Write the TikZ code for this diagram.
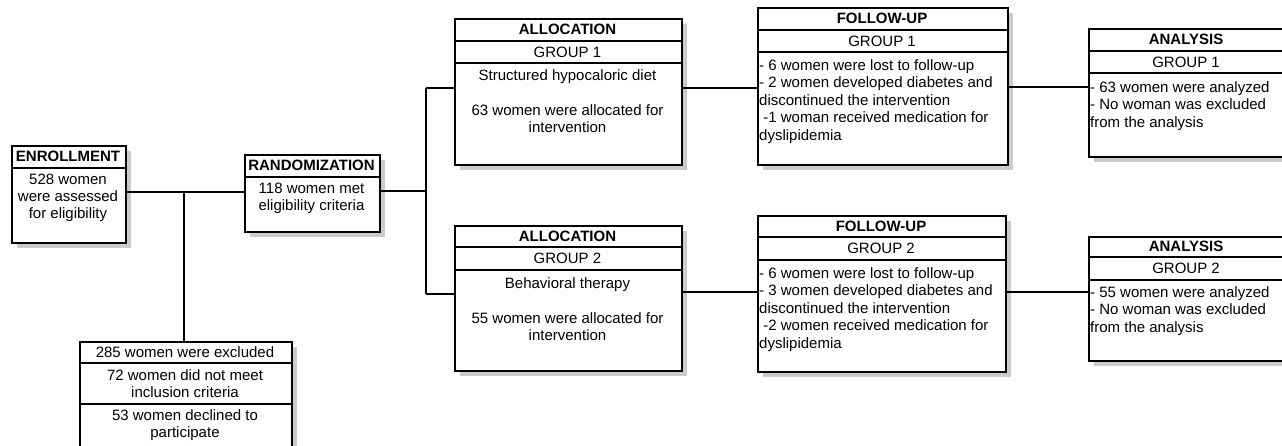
\documentclass[tikz,border=0pt]{standalone}
\usepackage{fontspec}
\setmainfont{Liberation Sans}
\usetikzlibrary{shadows}
\newcommand\diafs{\fontsize{15}{17.4}\selectfont}
\begin{document}
\begin{tikzpicture}[x=1pt,y=-1pt,
 box/.style={draw, line width=2pt, fill=white, inner sep=0pt, anchor=north west,
   drop shadow={shadow xshift=5pt, shadow yshift=-5pt, fill=black!40}},
 divider/.style={line width=2pt},
 link/.style={line width=2pt},
 hd/.style={font=\diafs\bfseries, anchor=base, inner sep=0pt},
 sub/.style={font=\diafs, anchor=base, inner sep=0pt},
 ctext/.style={font=\diafs, align=center, anchor=north, inner sep=0pt},
 ltext/.style={font=\diafs, align=left, anchor=north west, inner sep=0pt}]
\clip (0,0) rectangle (1282,446);
\fill[white] (0,0) rectangle (1282,446);

% ENROLLMENT
\node[box, minimum width=114pt, minimum height=97pt] (enr) at (11,145) {};
\draw[divider] (enr.west |- 0,168) -- (enr.east |- 0,168);
\node[hd] (enrH) at (68,162) {ENROLLMENT};
\node[ctext] (enrB) at (68,173.4) {528 women\\were assessed\\for eligibility};

% RANDOMIZATION
\node[box, minimum width=135pt, minimum height=77pt] (rand) at (244,154) {};
\draw[divider] (rand.west |- 0,177) -- (rand.east |- 0,177);
\node[hd] (randH) at (311.5,171) {RANDOMIZATION};
\node[ctext] (randB) at (311.5,182.4) {118 women met\\eligibility criteria};

% EXCLUDED
\node[box, minimum width=212pt, minimum height=110pt] (excl) at (79,341) {};
\draw[divider] (excl.west |- 0,363) -- (excl.east |- 0,363);
\draw[divider] (excl.west |- 0,404) -- (excl.east |- 0,404);
\node[sub] (exclA) at (185,357.4) {285 women were excluded};
\node[ctext] (exclB) at (185,369.4) {72 women did not meet\\inclusion criteria};
\node[ctext] (exclC) at (185,409.4) {53 women declined to\\participate};

% ALLOCATION 1
\node[box, minimum width=227pt, minimum height=146pt] (al1) at (454,18) {};
\draw[divider] (al1.west |- 0,41) -- (al1.east |- 0,41);
\draw[divider] (al1.west |- 0,63) -- (al1.east |- 0,63);
\node[hd] (al1H) at (567.5,35) {ALLOCATION};
\node[sub] (al1G) at (567.5,57.4) {GROUP 1};
\node[ctext] (al1B) at (567.5,69.4) {Structured hypocaloric diet\\[17.4pt]63 women were allocated for\\intervention};

% ALLOCATION 2
\node[box, minimum width=227pt, minimum height=145pt] (al2) at (454,225) {};
\draw[divider] (al2.west |- 0,247) -- (al2.east |- 0,247);
\draw[divider] (al2.west |- 0,270) -- (al2.east |- 0,270);
\node[hd] (al2H) at (567.5,241.4) {ALLOCATION};
\node[sub] (al2G) at (567.5,264) {GROUP 2};
\node[ctext] (al2B) at (567.5,277.4) {Behavioral therapy\\[17.4pt]55 women were allocated for\\intervention};

% FOLLOW-UP 1
\node[box, minimum width=250pt, minimum height=157pt] (fu1) at (757,7) {};
\draw[divider] (fu1.west |- 0,30) -- (fu1.east |- 0,30);
\draw[divider] (fu1.west |- 0,52) -- (fu1.east |- 0,52);
\node[hd] (fu1H) at (882,24) {FOLLOW-UP};
\node[sub] (fu1G) at (882,46.4) {GROUP 1};
\node[ltext] (fu1B) at (759,59.4) {- 6 women were lost to follow-up\\- 2 women developed diabetes and\\discontinued the intervention\\\ -1 woman received medication for\\dyslipidemia};

% FOLLOW-UP 2
\node[box, minimum width=248pt, minimum height=156pt] (fu2) at (757,215) {};
\draw[divider] (fu2.west |- 0,237) -- (fu2.east |- 0,237);
\draw[divider] (fu2.west |- 0,260) -- (fu2.east |- 0,260);
\node[hd] (fu2H) at (881,231.4) {FOLLOW-UP};
\node[sub] (fu2G) at (881,254) {GROUP 2};
\node[ltext] (fu2B) at (759,267.4) {- 6 women were lost to follow-up\\- 3 women developed diabetes and\\discontinued the intervention\\\ -2 women received medication for\\dyslipidemia};

% ANALYSIS 1
\node[box, minimum width=196pt, minimum height=128pt] (an1) at (1088,28) {};
\draw[divider] (an1.west |- 0,51) -- (an1.east |- 0,51);
\draw[divider] (an1.west |- 0,73) -- (an1.east |- 0,73);
\node[hd] (an1H) at (1186,45) {ANALYSIS};
\node[sub] (an1G) at (1186,67.4) {GROUP 1};
\node[ltext] (an1B) at (1090,81.4) {- 63 women were analyzed\\- No woman was excluded\\from the analysis};

% ANALYSIS 2
\node[box, minimum width=196pt, minimum height=124pt] (an2) at (1088,236) {};
\draw[divider] (an2.west |- 0,257) -- (an2.east |- 0,257);
\draw[divider] (an2.west |- 0,280) -- (an2.east |- 0,280);
\node[hd] (an2H) at (1186,252) {ANALYSIS};
\node[sub] (an2G) at (1186,274) {GROUP 2};
\node[ltext] (an2B) at (1090,286.4) {- 55 women were analyzed\\- No woman was excluded\\from the analysis};

% connectors
\coordinate (j1) at (184,192);
\coordinate (sp) at (426,191);
\coordinate (sp1) at (426,88);
\coordinate (sp2) at (426,294);
\draw[link] (enr.east |- j1) -- (rand.west |- j1);
\draw[link] (j1) -- (j1 |- excl.north);
\draw[link] (rand.east |- sp) -- (sp);
\draw[link] (sp1) -- (sp2);
\draw[link] (sp1) -- (sp1 -| al1.west);
\draw[link] (sp2) -- (sp2 -| al2.west);
\coordinate (c1) at (700,88);
\coordinate (c2) at (1040,87);
\coordinate (c3) at (700,292);
\coordinate (c4) at (1040,292);
\draw[link] (c1 -| al1.east) -- (c1 -| fu1.west);
\draw[link] (c2 -| fu1.east) -- (c2 -| an1.west);
\draw[link] (c3 -| al2.east) -- (c3 -| fu2.west);
\draw[link] (c4 -| fu2.east) -- (c4 -| an2.west);
\end{tikzpicture}
\end{document}
